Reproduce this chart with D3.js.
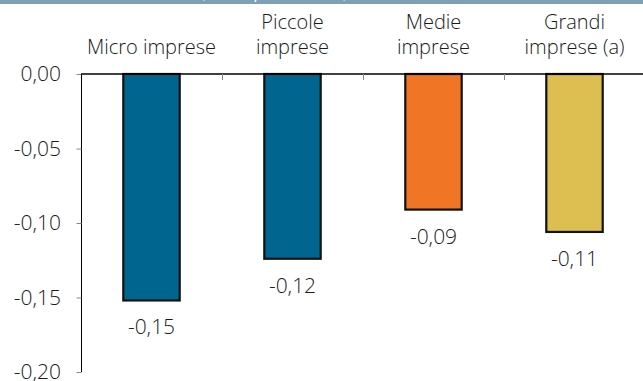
<!DOCTYPE html>
<html><head><meta charset="utf-8">
<script src="https://cdn.jsdelivr.net/npm/d3@7"></script>
<style>body{margin:0;background:#fff}svg{display:block}</style>
</head><body>
<script>
const categories = [["Micro imprese"], ["Piccole", "imprese"], ["Medie", "imprese"], ["Grandi", "imprese (a)"]];
const values = [-0.152, -0.124, -0.091, -0.106];
const valueLabels = ["-0,15", "-0,12", "-0,09", "-0,11"];
const colors = ["#00668f", "#00668f", "#f07524", "#dcbf50"];
const yTicks = [0, -0.05, -0.10, -0.15, -0.20];
const title = "(valori percentuali)";

const W = 643, H = 381;
const font = "'Open Sans', 'Noto Sans', sans-serif";
const weight = 300;
const fs = 21;
const svg = d3.select("body").append("svg").attr("width", W).attr("height", H);

// header band
svg.append("rect").attr("x", 0).attr("y", 0).attr("width", W).attr("height", 4).attr("fill", "#7f9fb5");
svg.append("text").attr("x", 274).attr("y", -2).attr("text-anchor", "middle")
  .attr("font-family", font).attr("font-size", 17).attr("fill", "#fff").text(title);

const x = d3.scaleBand().domain(d3.range(categories.length)).range([81, 645]).paddingInner(0).paddingOuter(0);
const y = d3.scaleLinear().domain([-0.20, 0]).range([372, 74]);
const fmt = d => d3.format(".2f")(d).replace(".", ",").replace("−", "-");

// y axis
const yAxis = d3.axisLeft(y).tickValues(yTicks).tickSize(5).tickPadding(15).tickFormat(fmt);
const ga = svg.append("g").attr("transform", "translate(81,0)").call(yAxis);
ga.select(".domain").attr("stroke", "#000").attr("stroke-width", 1).attr("d", `M0.5,${y(0)}V${y(-0.2)}`);
ga.selectAll(".tick line").attr("stroke", "#888").attr("transform", "translate(0.5,0)");
ga.selectAll(".tick text").attr("font-family", font).attr("font-weight", weight).attr("font-size", fs).attr("fill", "#1a1a1a");

// bars
svg.selectAll("rect.bar").data(values).enter().append("rect").attr("class", "bar")
  .attr("x", (d, i) => x(i) + x.bandwidth() * 0.3)
  .attr("width", x.bandwidth() * 0.4)
  .attr("y", y(0))
  .attr("height", d => y(d) - y(0))
  .attr("fill", (d, i) => colors[i])
  .attr("stroke", "#111").attr("stroke-width", 2.2);

// zero line
svg.append("line").attr("x1", 81).attr("x2", 643).attr("y1", y(0)).attr("y2", y(0))
  .attr("stroke", "#000").attr("stroke-width", 1.5);

// category separator ticks
svg.selectAll("line.sep").data(d3.range(1, categories.length)).enter().append("line")
  .attr("class", "sep")
  .attr("x1", d => x(d) + 0.5).attr("x2", d => x(d) + 0.5)
  .attr("y1", y(0)).attr("y2", y(0) + 6)
  .attr("stroke", "#888").attr("stroke-width", 1);

// value labels
svg.selectAll("text.val").data(values).enter().append("text").attr("class", "val")
  .attr("x", (d, i) => x(i) + x.bandwidth() / 2)
  .attr("y", d => y(d) + 34)
  .attr("text-anchor", "middle").attr("font-family", font).attr("font-weight", weight).attr("font-size", fs).attr("fill", "#1a1a1a")
  .text((d, i) => valueLabels[i]);

// category labels
categories.forEach((lines, i) => {
  lines.forEach((t, j) => {
    svg.append("text")
      .attr("x", x(i) + x.bandwidth() / 2)
      .attr("y", 54 - (lines.length - 1 - j) * 25)
      .attr("text-anchor", "middle").attr("font-family", font).attr("font-weight", weight).attr("font-size", 20).attr("fill", "#1a1a1a")
      .text(t);
  });
});
</script>
</body></html>
